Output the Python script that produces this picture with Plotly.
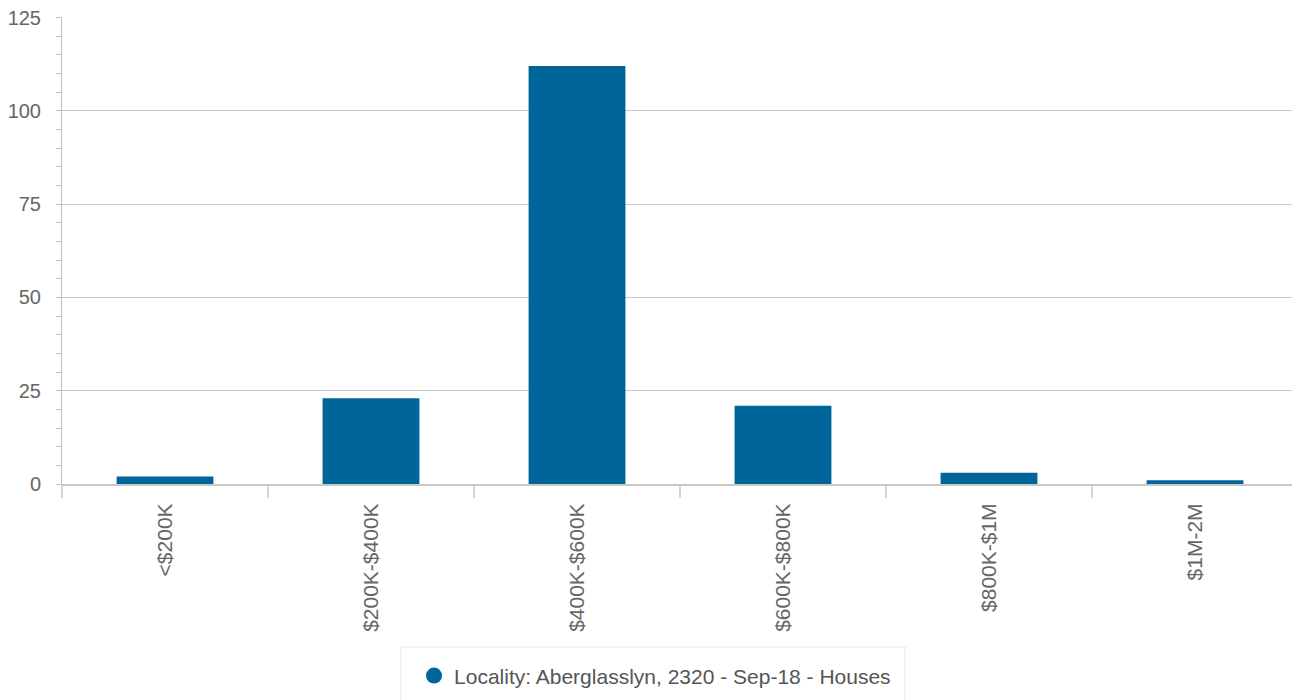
import plotly.graph_objects as go

categories = ["<$200K", "$200K-$400K", "$400K-$600K", "$600K-$800K", "$800K-$1M", "$1M-2M"]
counts = [2, 23, 112, 21, 3, 1]
series_name = "Locality: Aberglasslyn, 2320 - Sep-18 - Houses"
y_ticks = [0, 25, 50, 75, 100, 125]

color = "#006699"
font = "Liberation Sans, Arial, sans-serif"

fig = go.Figure()
fig.add_trace(go.Bar(x=categories, y=counts, marker=dict(color=color, line=dict(width=0)),
                     showlegend=False, name=series_name))
fig.add_trace(go.Scatter(x=[None], y=[None], mode="markers", name=series_name,
                         marker=dict(color=color, size=16, symbol="circle")))

# page body has an 8px margin, so the figure is sized/offset accordingly
fig.update_layout(
    width=1292, height=692,
    paper_bgcolor="white", plot_bgcolor="white",
    margin=dict(l=54, r=2, t=9, b=216, autoexpand=False),
    bargap=0.53,
    font=dict(family=font, color="#666666"),
    showlegend=True,
    legend=dict(orientation="h", x=0.4798, xanchor="center", y=-0.411, yanchor="middle",
                borderwidth=0, font=dict(size=21, color="#555555"),
                itemsizing="trace"),
    shapes=[dict(type="rect", xref="paper", yref="paper", x0=0.2743, x1=0.682,
                 y0=-0.349, y1=-0.6, line=dict(color="#e6e6e6", width=1),
                 fillcolor="rgba(0,0,0,0)", layer="below")],
)
fig.update_xaxes(
    type="category", tickson="boundaries", ticks="outside", ticklen=12, tickcolor="#ccd6eb",
    tickwidth=2, tickangle=-90, tickfont=dict(size=21, color="#666666"),
    showgrid=False, showline=True, linecolor="#c8c8c8", linewidth=2, ticklabelstandoff=9,
)
fig.update_yaxes(
    range=[0, 125.15], tickvals=y_ticks, ticks="outside", ticklen=5, tickcolor="#c0c0c0",
    tickfont=dict(size=20, color="#666666"), showgrid=True, gridcolor="#c8c8c8", gridwidth=1,
    showline=True, linecolor="#c0c0c0", linewidth=1, zeroline=False, ticklabelstandoff=11,
    ticklabeloverflow="allow",
    minor=dict(dtick=5, ticks="outside", ticklen=5, tickcolor="#c0c0c0", showgrid=False),
)

fig.write_html("out.html")
